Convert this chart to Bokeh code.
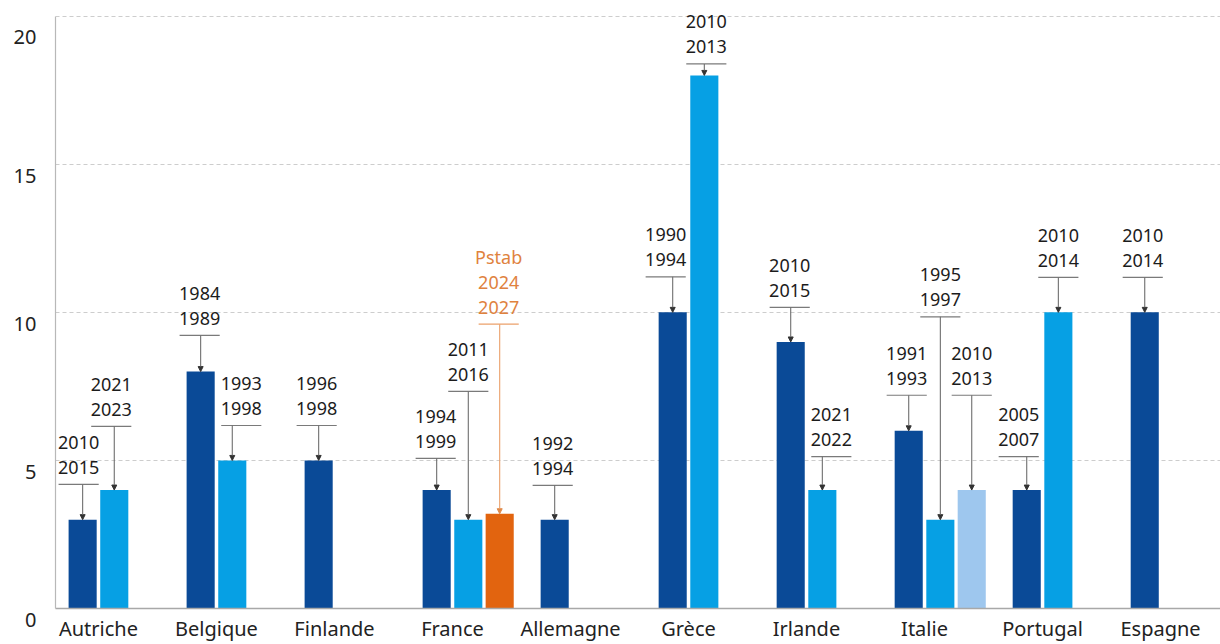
from bokeh.plotting import figure
from bokeh.models import Range1d, FixedTicker, ColumnDataSource, Arrow, NormalHead
from bokeh.core.properties import value
from bokeh.embed import file_html
from bokeh.resources import INLINE

# ---- data ----
countries = ["Autriche", "Belgique", "Finlande", "France", "Allemagne",
             "Grèce", "Irlande", "Italie", "Portugal", "Espagne"]

bar_country = ["Autriche", "Autriche", "Belgique", "Belgique", "Finlande",
               "France", "France", "France", "Allemagne", "Grèce", "Grèce",
               "Irlande", "Irlande", "Italie", "Italie", "Italie",
               "Portugal", "Portugal", "Espagne"]
bar_episode = [1, 2, 1, 2, 1, 1, 2, 3, 1, 1, 2, 1, 2, 1, 2, 3, 1, 2, 1]
bar_value = [3, 4, 8, 5, 5, 4, 3, 3.2, 3, 10, 18, 9, 4, 6, 3, 4, 4, 10, 10]
bar_kind = ["e1", "e2", "e1", "e2", "e1", "e1", "e2", "pstab", "e1", "e1", "e2",
            "e1", "e2", "e1", "e2", "e3", "e1", "e2", "e1"]
bar_labels = [["2010", "2015"], ["2021", "2023"], ["1984", "1989"], ["1993", "1998"],
              ["1996", "1998"], ["1994", "1999"], ["2011", "2016"],
              ["Pstab", "2024", "2027"], ["1992", "1994"], ["1990", "1994"],
              ["2010", "2013"], ["2010", "2015"], ["2021", "2022"], ["1991", "1993"],
              ["1995", "1997"], ["2010", "2013"], ["2005", "2007"], ["2010", "2014"],
              ["2010", "2014"]]
# call-out layout: bracket height (axis units) and horizontal nudge of the label (px)
callout_level = [4.19, 6.15, 9.22, 6.18, 6.18, 5.07, 7.33, 9.6, 4.16, 11.2, 18.39,
                 10.17, 5.13, 7.2, 9.85, 7.2, 5.13, 11.18, 11.18]
callout_dx = [-4, -3, -1, 9, -2, -1, 0, -1, -2, -7, 2, -1, 9, -2, 0, 0, -8, 0, -2]
y_ticks = [0, 5, 10, 15, 20]
y_tick_labels = ["0", "5", "10", "15", "20"]

# ---- styles ----
FILL = {"e1": "#0a4a97", "e2": "#06a0e4", "e3": "#9ec7ee", "pstab": "#e2640f"}
LABEL_COLOR = {"e1": "#1c1c1c", "e2": "#1c1c1c", "e3": "#1c1c1c", "pstab": "#e0823e"}
LINE_COLOR = {"e1": "#7a7a7a", "e2": "#7a7a7a", "e3": "#7a7a7a", "pstab": "#eba06a"}
SLOT_OFFSET = {1: -0.134, 2: 0.134, 3: 0.40}
BAR_W = 0.238
BRACKET_HALF = 0.17
PX = 1 / 118.0  # x data units per pixel (category pitch ~118 px)
FONT = "Noto Sans"
X0, X1 = -0.364, 9.508

xs = [countries.index(c) + SLOT_OFFSET[e] for c, e in zip(bar_country, bar_episode)]
lx = [x + d * PX for x, d in zip(xs, callout_dx)]

bars = ColumnDataSource(dict(
    x=xs, top=bar_value, color=[FILL[k] for k in bar_kind],
    level=callout_level,
    x0=[x - BRACKET_HALF for x in lx], x1=[x + BRACKET_HALF for x in lx],
    lc=[LINE_COLOR[k] for k in bar_kind],
))

tx, ty, tt, toff, tcol = [], [], [], [], []
for x, lev, lines, k in zip(lx, callout_level, bar_labels, bar_kind):
    n = len(lines)
    for j, s in enumerate(lines):
        tx.append(x)
        ty.append(lev)
        tt.append(s)
        toff.append(-17 - 25 * (n - 1 - j))
        tcol.append(LABEL_COLOR[k])
texts = ColumnDataSource(dict(x=tx, y=ty, text=tt, yo=toff, color=tcol))

p = figure(width=1220, height=644,
           x_range=Range1d(X0, X1), y_range=Range1d(0, 20.53),
           output_backend="svg", toolbar_location=None,
           min_border_left=55, min_border_right=0, min_border_top=0, min_border_bottom=30)
p.outline_line_color = None
p.background_fill_color = "white"
p.border_fill_color = "white"

p.vbar(x="x", top="top", bottom=0, width=BAR_W, fill_color="color", line_color=None, source=bars)

p.segment(x0="x0", y0="level", x1="x1", y1="level", line_color="lc", line_width=1.2, source=bars)

for kind_set, col, hc in (({"e1", "e2", "e3"}, "#6e6e6e", "#333333"), ({"pstab"}, "#eba06a", "#e08a4a")):
    idx = [i for i, k in enumerate(bar_kind) if k in kind_set]
    src = ColumnDataSource(dict(x=[xs[i] for i in idx],
                                y0=[callout_level[i] for i in idx],
                                y1=[bar_value[i] for i in idx]))
    p.add_layout(Arrow(end=NormalHead(size=5, fill_color=hc, line_color=hc),
                       x_start="x", y_start="y0", x_end="x", y_end="y1",
                       line_color=col, line_width=1.1, source=src))

p.text(x="x", y="y", text="text", y_offset="yo", text_color="color",
       text_align="center", text_baseline="middle",
       text_font=value(FONT), text_font_size="18px", source=texts)

# x axis
p.xaxis.ticker = FixedTicker(ticks=list(range(len(countries))))
p.xaxis.major_label_overrides = {i: c for i, c in enumerate(countries)}
p.xaxis.major_tick_line_color = None
p.xaxis.major_tick_out = 0
p.xaxis.major_tick_in = 0
p.xaxis.minor_tick_line_color = None
p.xaxis.major_label_standoff = 6
p.xaxis.axis_line_color = "#a8a8a8"
p.xaxis.axis_line_width = 1.5
p.xaxis.major_label_text_font = FONT
p.xaxis.major_label_text_font_size = "20px"
p.xaxis.major_label_text_color = "#222222"

# y axis: tick labels sit just below each gridline, as in the original
p.yaxis.ticker = FixedTicker(ticks=y_ticks)
p.yaxis.major_label_overrides = {t: "\n" + s for t, s in zip(y_ticks, y_tick_labels)}
p.yaxis.bounds = (0, 20)
p.yaxis.major_tick_line_color = None
p.yaxis.major_tick_out = 0
p.yaxis.major_tick_in = 0
p.yaxis.minor_tick_line_color = None
p.yaxis.major_label_standoff = 19
p.yaxis.axis_line_color = "#b8b8b8"
p.yaxis.axis_line_width = 1.2
p.yaxis.major_label_text_font = FONT
p.yaxis.major_label_text_font_size = "20px"
p.yaxis.major_label_text_line_height = 0.85
p.yaxis.major_label_text_color = "#222222"

p.xgrid.grid_line_color = None
p.ygrid.ticker = FixedTicker(ticks=[t for t in y_ticks if t > 0])
p.ygrid.grid_line_color = "#cdcdcd"
p.ygrid.grid_line_dash = "4 3"
p.ygrid.grid_line_width = 1

open("out.html", "w").write(file_html(p, INLINE))
